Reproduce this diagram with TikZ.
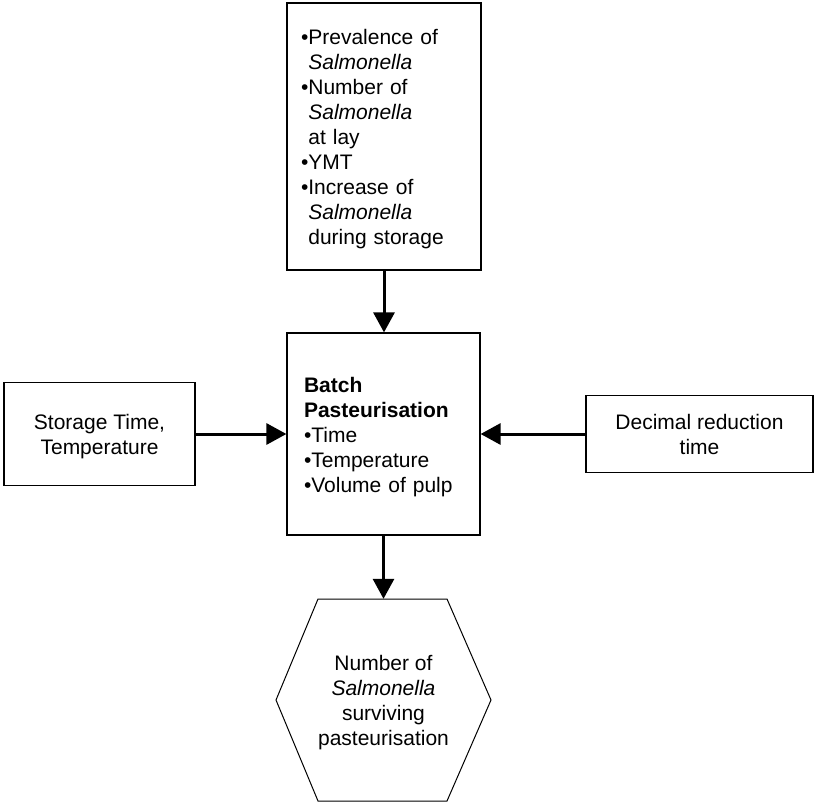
\documentclass[tikz,border=0pt]{standalone}
\usepackage{fontspec}
\setmainfont{Liberation Sans}
\usetikzlibrary{arrows.meta,calc}
\newcommand{\bulind}{\phantom{•}}
\newcommand{\tstrut}{\rule{0pt}{21pt}}
\begin{document}
\begin{tikzpicture}[x=1pt,y=-1pt,
  box/.style={draw,line width=1.2pt,inner sep=0pt,font=\fontsize{21}{25}\selectfont},
  plain/.style={inner sep=0pt,font=\fontsize{21}{25}\selectfont},
  conn/.style={line width=3pt,-{Triangle[length=20pt,width=21pt]}},
  hexline/.style={line width=1pt,line join=miter}
]
\useasboundingbox (0,0) rectangle (814,803);
\node[box,minimum width=194pt,minimum height=267pt,text width=166pt,align=left] (top) at (384,136.5)
 {\tstrut•Prevalence of\\ \bulind\textit{Salmonella}\\ •Number of\\ \bulind\textit{Salmonella}\\ \bulind at lay\\ •YMT\\ •Increase of\\ \bulind\textit{Salmonella}\\ \bulind during storage};
\node[box,minimum width=193pt,minimum height=202pt,text width=159pt,align=left] (mid) at (383.5,434)
 {\tstrut\textbf{Batch}\\ \textbf{Pasteurisation}\\ •Time\\ •Temperature\\ •Volume of pulp};
\node[box,minimum width=191pt,minimum height=103pt,align=center] (left) at (99.5,434)
 {\tstrut Storage Time,\\ Temperature};
\node[box,minimum width=227pt,minimum height=77pt,align=center] (right) at (699.5,434)
 {Decimal reduction\\ time};
\node[plain,minimum width=215pt,minimum height=202pt,align=center] (hex) at (383.5,700)
 {\tstrut Number of\\ \textit{Salmonella}\\ surviving\\ pasteurisation};
\draw[hexline] ($(hex.center)+(-65.5,-101)$) -- ($(hex.center)+(63.5,-101)$) -- ($(hex.center)+(107.5,0)$)
  -- ($(hex.center)+(63.5,101)$) -- ($(hex.center)+(-65.5,101)$) -- ($(hex.center)+(-107.5,0)$) -- cycle;
\draw[conn] (top.south) -- (top.south |- mid.north);
\draw[conn] (left.east) -- (mid.west);
\draw[conn] (right.west) -- (mid.east);
\draw[conn] (mid.south) -- (mid.south |- hex.north);
\end{tikzpicture}
\end{document}
